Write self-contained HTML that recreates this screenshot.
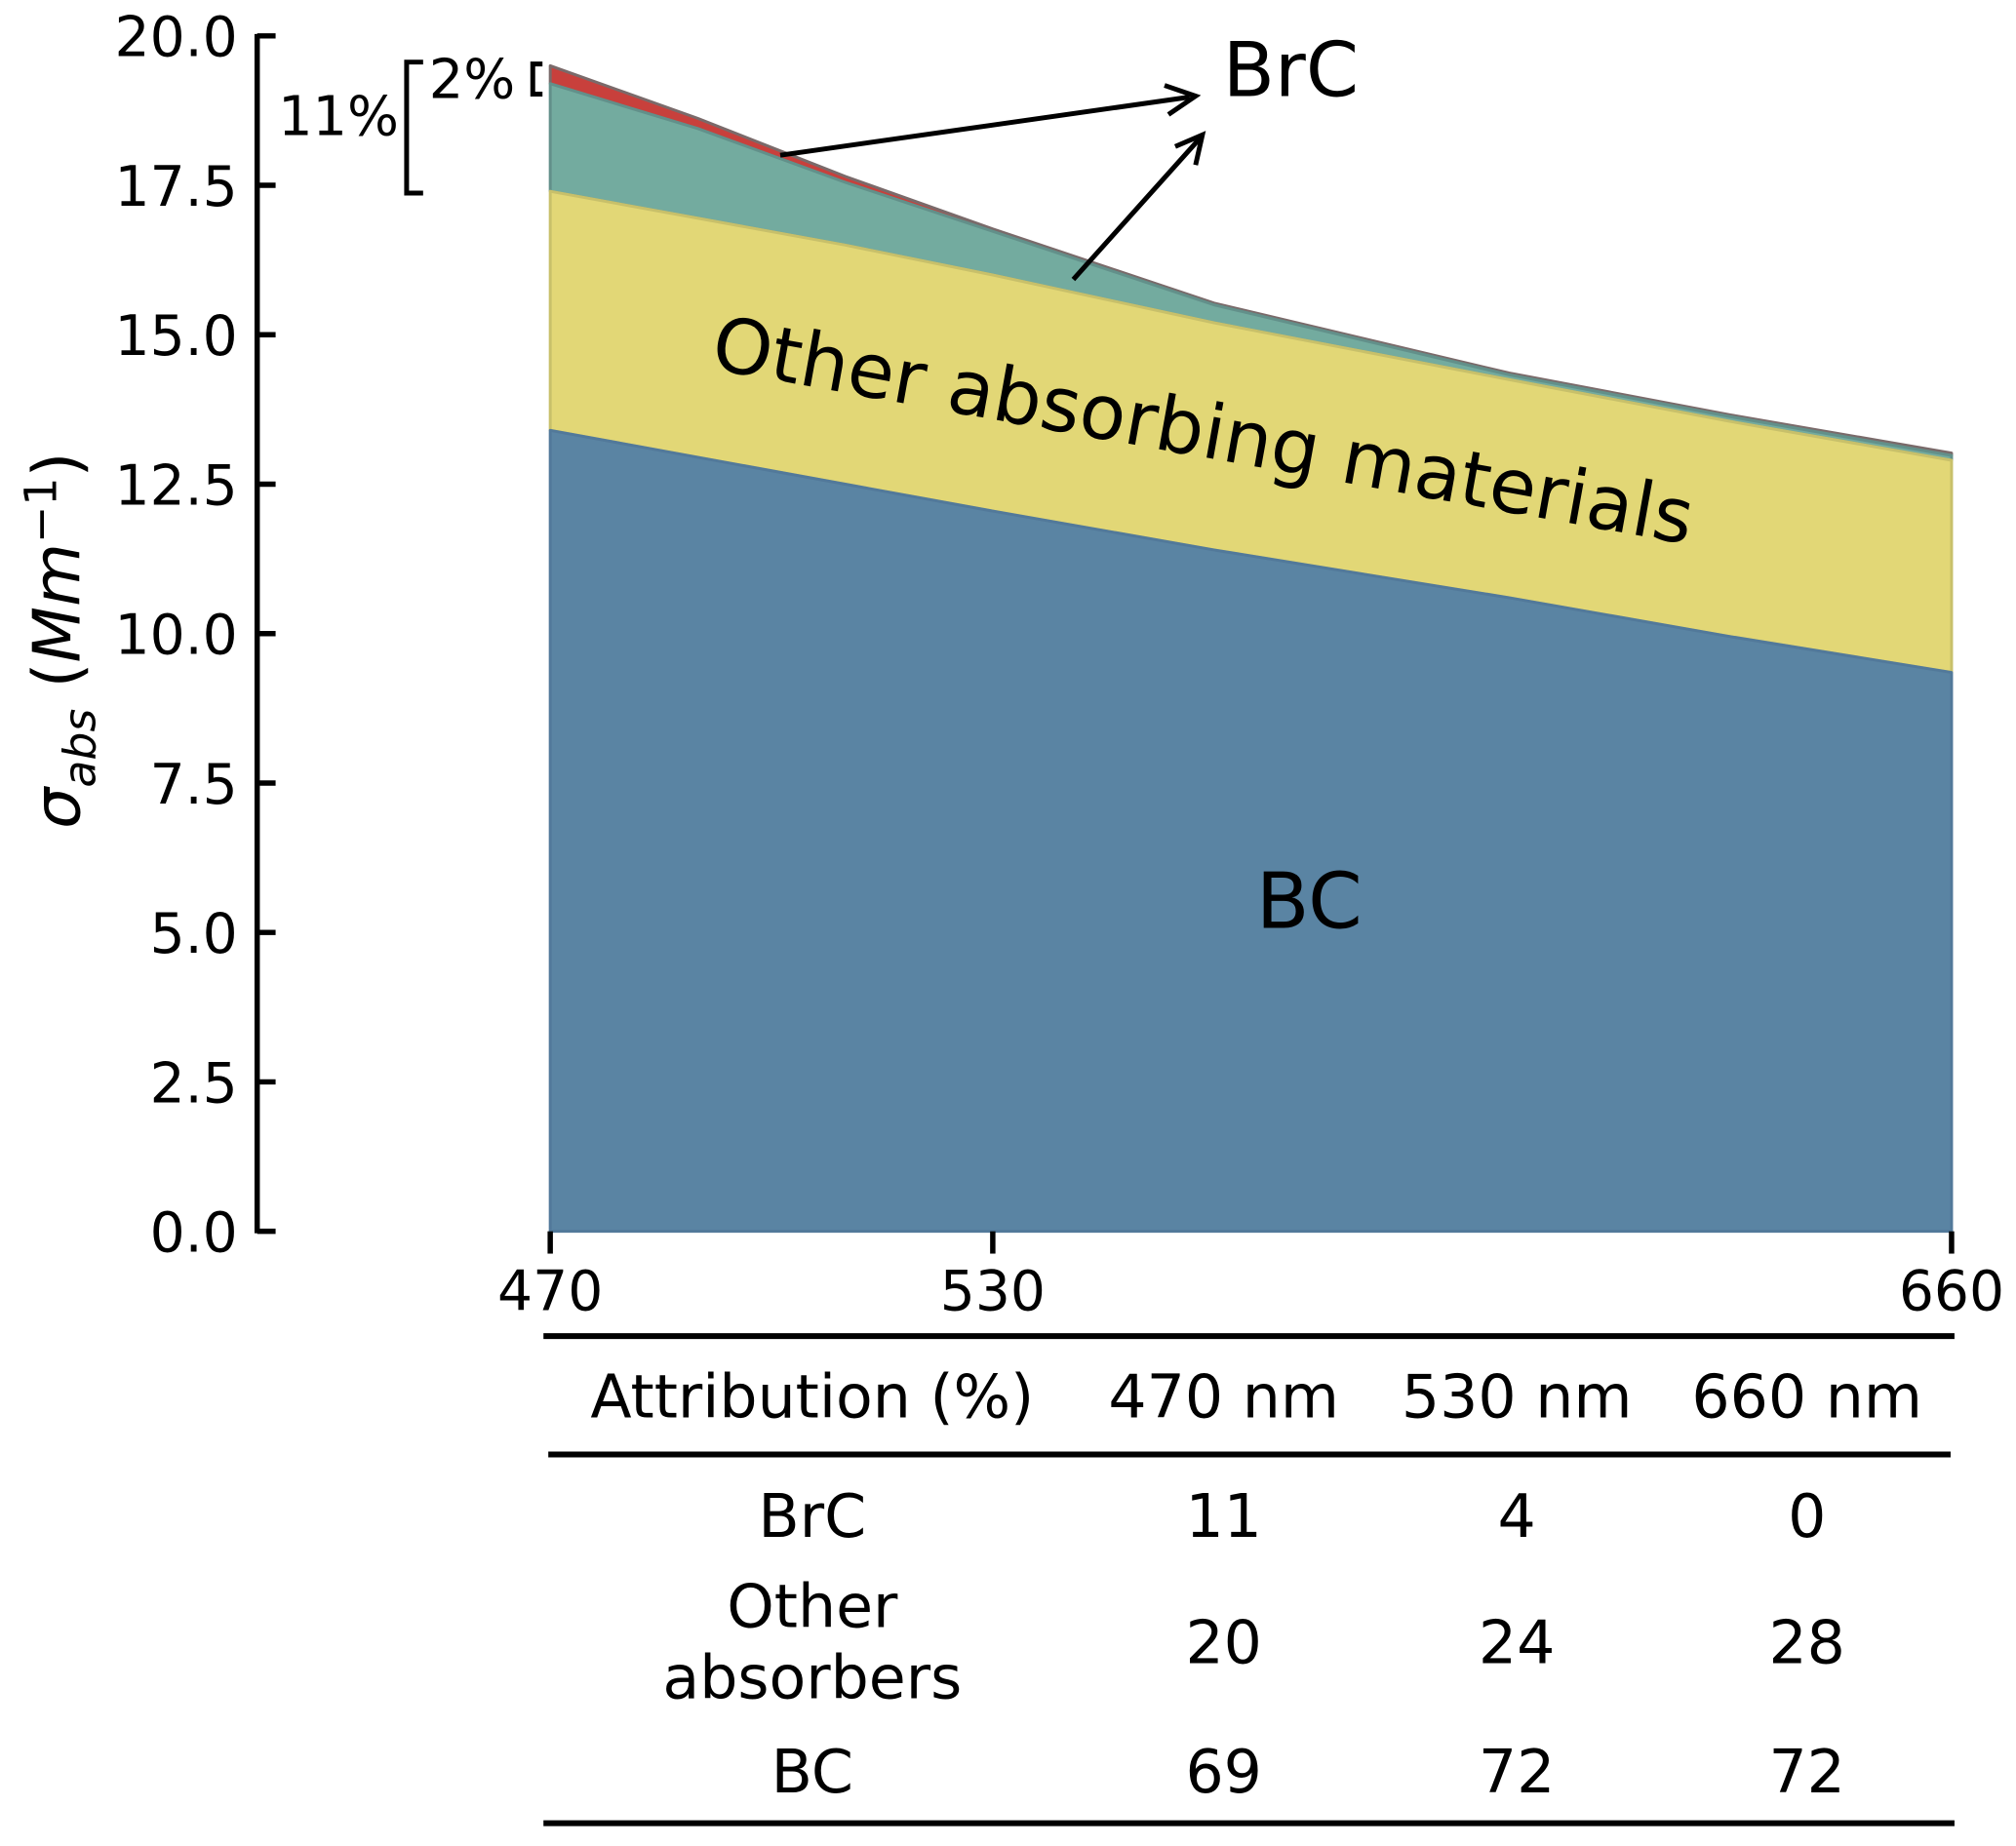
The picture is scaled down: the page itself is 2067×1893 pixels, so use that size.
<!DOCTYPE html>
<html><head><meta charset="utf-8"><style>
body{margin:0;background:#fff}
svg{display:block;font-family:"DejaVu Sans","Liberation Sans",sans-serif}
</style></head><body>
<svg id="chart" width="2067" height="1893" viewBox="0 0 2067 1893">
<g transform="scale(0.995)">
<g id="areas"></g>
<g id="axes"></g>
<g stroke="#000" stroke-width="5" fill="none">
 <line x1="804" y1="160" x2="1226" y2="100"/>
 <polyline points="1200,88 1232,99 1204,118"/>
 <line x1="1106" y1="288" x2="1236" y2="143"/>
 <polyline points="1211,151 1239,139 1232,170"/>
 <polyline points="436,64 419,64 419,199 436,199"/>
 <polyline points="559,66 549,66 549,97 559,97"/>
</g>
<text x="411" y="139" font-size="56" text-anchor="end">11%</text>
<text x="442" y="101" font-size="56">2%</text>
<text x="1260" y="99" font-size="78">BrC</text>
<text x="1239" y="449" font-size="78" text-anchor="middle" dominant-baseline="middle" transform="rotate(10.2 1239 449)">Other absorbing materials</text>
<text x="1349" y="934" font-size="80" text-anchor="middle" dominant-baseline="middle">BC</text>
<text transform="translate(82 660) rotate(-90)" font-size="67" text-anchor="middle"><tspan font-style="italic">σ</tspan><tspan font-style="italic" font-size="46" dy="16">abs</tspan><tspan dy="-16"> (</tspan><tspan font-style="italic">Mm</tspan><tspan font-size="46" dy="-24">−1</tspan><tspan dy="24">)</tspan></text>
<g font-size="62" text-anchor="middle">
 <line x1="560" y1="1377" x2="2014" y2="1377" stroke="#000" stroke-width="6"/>
 <line x1="565" y1="1499" x2="2010" y2="1499" stroke="#000" stroke-width="6"/>
 <line x1="560" y1="1879" x2="2014" y2="1879" stroke="#000" stroke-width="6"/>
 <text x="837" y="1461">Attribution (%)</text>
 <text x="1261" y="1461">470 nm</text>
 <text x="1563" y="1461">530 nm</text>
 <text x="1862" y="1461">660 nm</text>
 <text x="837" y="1584">BrC</text>
 <text x="1261" y="1584">11</text>
 <text x="1563" y="1584">4</text>
 <text x="1862" y="1584">0</text>
 <text x="837" y="1677">Other</text>
 <text x="837" y="1750">absorbers</text>
 <text x="1261" y="1714">20</text>
 <text x="1563" y="1714">24</text>
 <text x="1862" y="1714">28</text>
 <text x="837" y="1847">BC</text>
 <text x="1261" y="1847">69</text>
 <text x="1563" y="1847">72</text>
 <text x="1862" y="1847">72</text>
</g>
</g>
</svg>
<script>
const wavelengths = [470, 490, 510, 530, 560, 600, 630, 660];
const bcTop = [13.4, 12.95, 12.5, 12.05, 11.4, 10.6, 9.95, 9.35];
const otherTop = [17.4, 16.95, 16.5, 16.0, 15.2, 14.25, 13.55, 12.9];
const greenTop = [19.2, 18.45, 17.55, 16.73, 15.5, 14.33, 13.63, 12.98];
const totalTop = [19.5, 18.62, 17.65, 16.77, 15.53, 14.36, 13.66, 13.02];
const yTicks = [0, 2.5, 5, 7.5, 10, 12.5, 15, 17.5, 20];
const xTicks = [470, 530, 660];

const NS = 'http://www.w3.org/2000/svg';
const xS = v => 567 + (v - 470) * (2011 - 567) / 190;
const yS = v => 1269 - v * (1269 - 37) / 20;
const areas = document.getElementById('areas');
const axes = document.getElementById('axes');

function band(lower, upper, fill, stroke, name) {
  let d = '';
  wavelengths.forEach((w, i) => { d += (i ? 'L' : 'M') + xS(w) + ' ' + yS(upper[i]) + ' '; });
  for (let i = wavelengths.length - 1; i >= 0; i--) d += 'L' + xS(wavelengths[i]) + ' ' + yS(lower ? lower[i] : 0) + ' ';
  const p = document.createElementNS(NS, 'path');
  p.setAttribute('d', d + 'Z');
  p.setAttribute('fill', fill);
  p.setAttribute('stroke', stroke);
  p.setAttribute('stroke-width', '3');
  p.setAttribute('stroke-linejoin', 'round');
  
  
  areas.appendChild(p);
}
band(greenTop, totalTop, '#c8403c', '#7a6a6a', 'brc-area-red');
band(otherTop, greenTop, '#73ab9f', '#62908a', 'brc-area-green');
band(bcTop, otherTop, '#e2d776', '#c8c06a', 'other-absorbers-area');
band(null, bcTop, '#5a84a3', '#52799a', 'bc-area');

function line(x1, y1, x2, y2, name) {
  const l = document.createElementNS(NS, 'line');
  l.setAttribute('x1', x1); l.setAttribute('y1', y1);
  l.setAttribute('x2', x2); l.setAttribute('y2', y2);
  l.setAttribute('stroke', '#000'); l.setAttribute('stroke-width', '5.5');
  
  
  axes.appendChild(l);
}
function text(x, y, s, anchor, name) {
  const t = document.createElementNS(NS, 'text');
  t.setAttribute('x', x); t.setAttribute('y', y);
  t.setAttribute('font-size', '57');
  t.setAttribute('text-anchor', anchor);
  t.textContent = s;
  
  
  axes.appendChild(t);
}
line(265, yS(20) - 2, 265, yS(0) + 2, 'y-axis-spine');
yTicks.forEach(v => {
  line(265, yS(v), 284, yS(v), 'y-tick');
  text(245, yS(v) + 21, v.toFixed(1), 'end', 'y-tick-label');
});
xTicks.forEach(v => {
  line(xS(v), 1269, xS(v), 1292, 'x-tick');
  text(xS(v), 1350, String(v), 'middle', 'x-tick-label');
});
</script>
</body></html>
